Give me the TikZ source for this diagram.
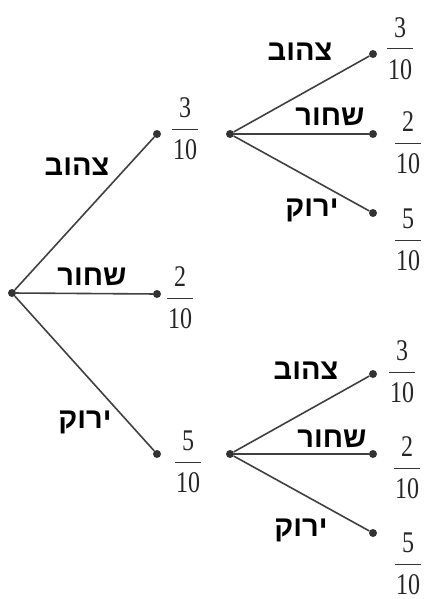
\documentclass[tikz,border=0pt]{standalone}
\usepackage{fontspec}
\usepackage{graphicx}
\setmainfont{Liberation Serif}
\newfontfamily\hebfont[Script=Hebrew]{Liberation Sans}
\TeXXeTstate=1
\newcommand{\dg}[1]{\scalebox{0.8}[1]{#1}}
\newcommand{\heb}[1]{\beginR #1\endR}
\tikzset{
  dot/.style={circle,fill=black!80,inner sep=0pt,minimum size=8pt},
  branch/.style={draw=black!75,line width=1.6pt},
  lbl/.style={font=\hebfont\bfseries\fontsize{29}{34}\selectfont,inner sep=0pt},
  digit/.style={font=\fontsize{30}{36}\selectfont,inner sep=0pt,text=black!85},
  fbar/.style={draw=black!80,line width=1pt}
}
\newcommand{\fracat}[4]{%
  \coordinate (#1) at (#2,#3);
  \node[digit] (#1-n) at ([yshift=21pt]#1) {\dg{#4}};
  \node[digit] (#1-d) at ([yshift=-21pt]#1) {\dg{10}};
  \draw[fbar] ([xshift=-13pt]#1) -- ([xshift=13pt]#1);
}
\begin{document}
\begin{tikzpicture}[x=1pt,y=-1pt]
\useasboundingbox (0,0) rectangle (425,599);
% dots
\node[dot] (r) at (12,293) {};
\node[dot] (a1) at (157,134) {};
\node[dot] (a2) at (157,294) {};
\node[dot] (a3) at (157,454) {};
\node[dot] (b0) at (230,134) {};
\node[dot] (c1) at (373,54) {};
\node[dot] (c2) at (373,134) {};
\node[dot] (c3) at (373,213) {};
\node[dot] (d0) at (230,454) {};
\node[dot] (e1) at (373,374) {};
\node[dot] (e2) at (373,454) {};
\node[dot] (e3) at (373,533) {};
% branches
\draw[branch] (r) -- (a1);
\draw[branch] (r) -- (a2);
\draw[branch] (r) -- (a3);
\draw[branch] (b0) -- (c1);
\draw[branch] (b0) -- (c2);
\draw[branch] (b0) -- (c3);
\draw[branch] (d0) -- (e1);
\draw[branch] (d0) -- (e2);
\draw[branch] (d0) -- (e3);
% labels
\node[lbl] (l1) at (77,167) {\heb{צהוב}};
\node[lbl] (l2) at (92,277) {\heb{שחור}};
\node[lbl] (l3) at (85,422) {\heb{ירוק}};
\node[lbl] (m1) at (300,52) {\heb{צהוב}};
\node[lbl] (m2) at (330,117) {\heb{שחור}};
\node[lbl] (m3) at (312,210) {\heb{ירוק}};
\node[lbl] (n1) at (306,371) {\heb{צהוב}};
\node[lbl] (n2) at (332,439) {\heb{שחור}};
\node[lbl] (n3) at (301,530) {\heb{ירוק}};
% fractions
\fracat{fa1}{185}{129}{3}
\fracat{fa2}{180}{298}{2}
\fracat{fa3}{188}{462}{5}
\fracat{fc1}{400}{49}{3}
\fracat{fc2}{408}{143}{2}
\fracat{fc3}{408}{240}{5}
\fracat{fe1}{402}{372}{3}
\fracat{fe2}{407}{468}{2}
\fracat{fe3}{408}{564}{5}
\end{tikzpicture}
\end{document}
